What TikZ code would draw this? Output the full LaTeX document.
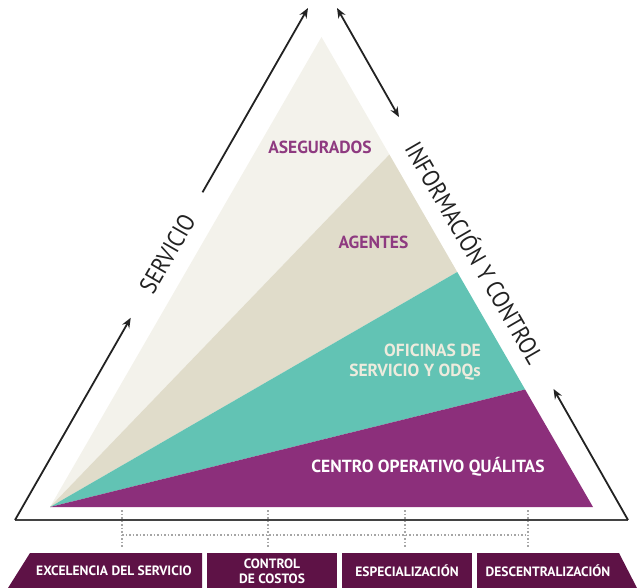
\documentclass[tikz,border=0pt]{standalone}
\usepackage{fontspec}
\setmainfont{PT Sans}
\newfontfamily\sidefont{PT Sans}[FakeStretch=0.88]
\usetikzlibrary{arrows.meta,calc}

\definecolor{zonelight}{HTML}{F3F2EB}
\definecolor{zonebeige}{HTML}{E0DCCA}
\definecolor{zoneteal}{HTML}{62C3B4}
\definecolor{zonepurple}{HTML}{8C2F7B}
\definecolor{barpurple}{HTML}{5E1246}
\definecolor{labelpurple}{HTML}{8E3A80}
\definecolor{labelcream}{HTML}{EEEBDD}
\definecolor{arrowgray}{HTML}{222222}

\begin{document}
\begin{tikzpicture}[x=1pt,y=-1pt,
arrowline/.style={draw=arrowgray,line width=1.8pt,-{Stealth[length=10pt,width=8pt]}},
zonelabel/.style={font=\fontsize{17.5}{20}\selectfont\bfseries,inner sep=0pt},
sidelabel/.style={font=\sidefont\fontsize{24.5}{28}\selectfont,inner sep=0pt,text=arrowgray},
barbox/.style={fill=barpurple,draw=none},
barlabel/.style={text=white,font=\fontsize{13.5}{15}\selectfont\bfseries,align=center,inner sep=0pt},
guide/.style={dash pattern=on 1.5pt off 2pt,gray!70,line width=1.2pt},
]
\useasboundingbox (0,0) rectangle (637,588);

% pyramid
\coordinate (L) at (50,507);
\coordinate (R) at (593,507);
\coordinate (T) at (321.5,37);
\coordinate (p1) at ($(R)!0.25!(T)$);
\coordinate (p2) at ($(R)!0.5!(T)$);
\coordinate (p3) at ($(R)!0.75!(T)$);
\fill[zonelight] (L) -- (p3) -- (T) -- cycle;
\fill[zonebeige] (L) -- (p2) -- (p3) -- cycle;
\fill[zoneteal] (L) -- (p1) -- (p2) -- cycle;
\fill[zonepurple] (L) -- (R) -- (p1) -- cycle;

\node (aseg) [zonelabel,text=labelpurple] at (320,147) {ASEGURADOS};
\node (agen) [zonelabel,text=labelpurple] at (373.5,242) {AGENTES};
\node (ofic) [zonelabel,text=labelcream,align=right,anchor=east] at (481,362) {OFICINAS DE\\SERVICIO Y ODQs};
\node (centro) [zonelabel,text=white] at (428,467) {CENTRO OPERATIVO QUÁLITAS};

% outer frame
\coordinate (oL) at (15,520);
\coordinate (oR) at (628,520);
\coordinate (oTL) at (308,8);
\coordinate (oTR) at (337,8);
\draw[draw=arrowgray!85,line width=2.6pt] (oL) -- (oR);
\draw[arrowline] (oL) -- ($(oL)!0.395!(oTL)$);
\draw[arrowline] ($(oL)!0.64!(oTL)$) -- (oTL);
\draw[arrowline] (oR) -- ($(oR)!0.256!(oTR)$);
\draw[arrowline,{Stealth[length=10pt,width=8pt]}-{Stealth[length=10pt,width=8pt]}] ($(oR)!0.787!(oTR)$) -- (oTR);
\node (serv) [sidelabel,rotate=60] at ($(oL)!0.52!(oTL)$) {SERVICIO};
\node (info) [sidelabel,rotate=-60] at ($(oR)!0.523!(oTR)$) {INFORMACIÓN Y CONTROL};

% bottom bar
\fill[barbox] (8,588) -- (30,553) -- (202,553) -- (202,588) -- cycle;
\fill[barbox] (207,553) rectangle (337,588);
\fill[barbox] (342,553) rectangle (472,588);
\fill[barbox] (477,588) -- (477,553) -- (619,553) -- (637,588) -- cycle;
\node (excel) [barlabel] at (114,571) {EXCELENCIA DEL SERVICIO};
\node (costos) [barlabel] at (272,571.5) {CONTROL\\DE COSTOS};
\node (espec) [barlabel] at (407,571) {ESPECIALIZACIÓN};
\node (descen) [barlabel] at (548,571) {DESCENTRALIZACIÓN};

% dotted guides
\foreach \gx in {122,268,405,528}
  \draw[guide] (\gx,510) -- (\gx,548);
\draw[guide] (122,535) -- (528,535);
\end{tikzpicture}
\end{document}
